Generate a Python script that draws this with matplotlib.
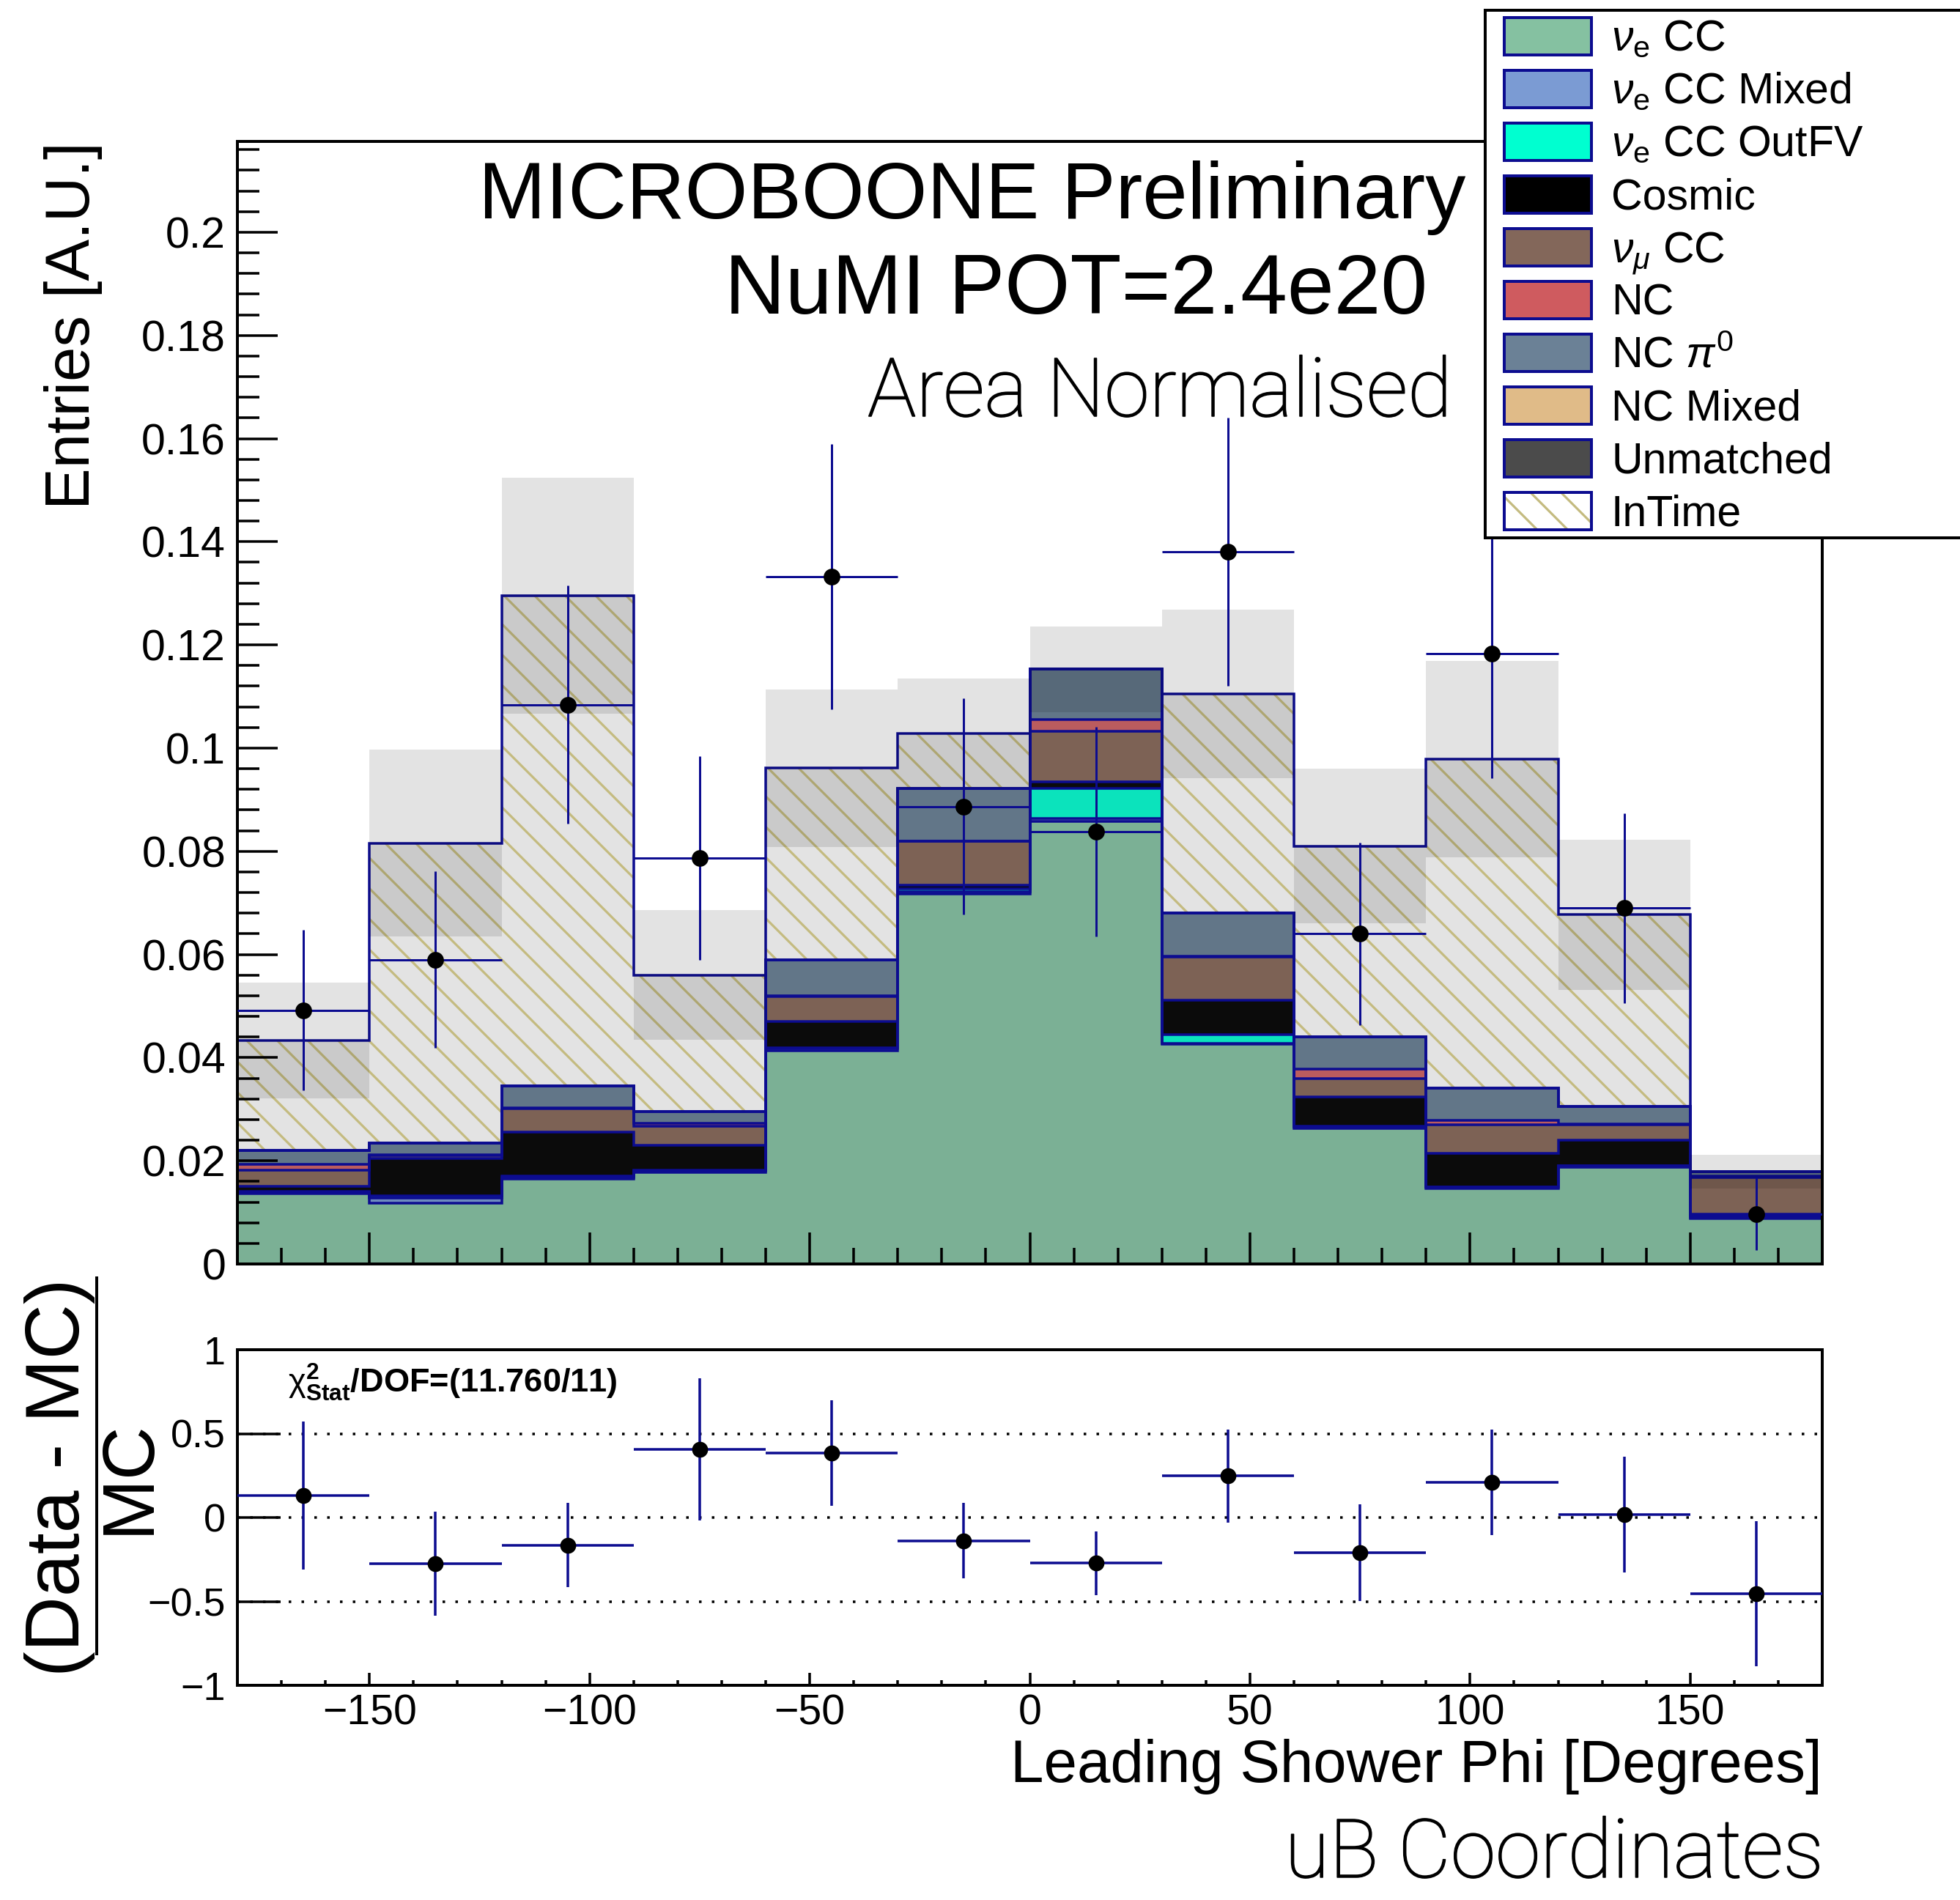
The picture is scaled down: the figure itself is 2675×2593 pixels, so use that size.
import numpy as np
import matplotlib
matplotlib.use("Agg")
import matplotlib.pyplot as plt
import matplotlib.patheffects as pe
from matplotlib.patches import Rectangle
from matplotlib.ticker import MultipleLocator, FuncFormatter

# --- data (12 bins of 30 degrees) ---
bin_edges = [-180, -150, -120, -90, -60, -30, 0, 30, 60, 90, 120, 150, 180]

nue_cc    = [0.0137, 0.0118, 0.0165, 0.0178, 0.0414, 0.0717, 0.0858, 0.0426, 0.0263, 0.0147, 0.0188, 0.0088]
nue_mixed = [0.0002, 0.0010, 0.0003, 0.0003, 0.0003, 0.0005, 0.0005, 0.0002, 0.0002, 0.0002, 0.0002, 0.0002]
nue_outfv = [0.0001, 0.0004, 0.0002, 0.0001, 0.0002, 0.0005, 0.0059, 0.0016, 0.0002, 0.0000, 0.0000, 0.0003]
cosmic    = [0.0010, 0.0072, 0.0085, 0.0048, 0.0051, 0.0008, 0.0013, 0.0068, 0.0057, 0.0065, 0.0050, 0.0003]
numu_cc   = [0.0032, 0.0006, 0.0046, 0.0037, 0.0048, 0.0084, 0.0097, 0.0083, 0.0036, 0.0056, 0.0030, 0.0072]
nc        = [0.0011, 0.0002, 0.0002, 0.0006, 0.0002, 0.0001, 0.0023, 0.0002, 0.0018, 0.0008, 0.0001, 0.0003]
nc_pi0    = [0.0027, 0.0022, 0.0042, 0.0022, 0.0070, 0.0102, 0.0098, 0.0083, 0.0062, 0.0063, 0.0034, 0.0008]
nc_mixed  = [0.0] * 12
unmatched = [0.0] * 12
intime    = [0.0213, 0.0582, 0.0950, 0.0265, 0.0371, 0.0107, 0.0000, 0.0425, 0.0370, 0.0638, 0.0372, 0.0000]

mc_err   = [0.0112, 0.0181, 0.0229, 0.0126, 0.0153, 0.0106, 0.0083, 0.0164, 0.0150, 0.0190, 0.0146, 0.0032]

data     = [0.0492, 0.0590, 0.1084, 0.0787, 0.1332, 0.0887, 0.0838, 0.1380, 0.0640, 0.1183, 0.0690, 0.0097]
data_err = [0.0156, 0.0171, 0.0231, 0.0197, 0.0257, 0.0209, 0.0203, 0.0260, 0.0177, 0.0242, 0.0184, 0.0070]

ratio     = [0.132, -0.275, -0.164, 0.406, 0.383, -0.138, -0.272, 0.247, -0.210, 0.208, 0.016, -0.456]
ratio_err = [0.440, 0.310, 0.253, 0.425, 0.315, 0.226, 0.190, 0.277, 0.288, 0.314, 0.345, 0.432]

labels = [r"$\nu_{\mathrm{e}}$ CC", r"$\nu_{\mathrm{e}}$ CC Mixed", r"$\nu_{\mathrm{e}}$ CC OutFV",
          "Cosmic", r"$\nu_{\mu}$ CC", "NC", r"NC $\pi^{0}$", "NC Mixed", "Unmatched", "InTime"]

# colours: in the plot, and (slightly lighter) in the legend
plot_colors = ["#7bb095", "#6f8bbf", "#0be3bc", "#0b0b0b", "#7d6255",
               "#bb5c5e", "#627688", "#c9a87a", "#454545", "#e3e3e3"]
leg_colors = ["#85c1a1", "#7b9bd3", "#00ffd0", "#000000", "#83675a",
              "#cf5b5f", "#6b8196", "#e0bb88", "#4b4b4b", "#ffffff"]
NAVY = "#0c0c90"
HATCH = "#c4bb80"
LIGHT = ["Roboto", "DejaVu Sans"]

W, H, DPI = 2675, 2593, 125


def pt(px):
    return px * 72.0 / DPI


plt.rcParams["font.family"] = ["Liberation Sans", "DejaVu Sans"]
plt.rcParams["mathtext.fontset"] = "custom"
plt.rcParams["mathtext.rm"] = "Liberation Sans"
plt.rcParams["mathtext.it"] = "Liberation Sans:italic"
plt.rcParams["mathtext.bf"] = "Liberation Sans:bold"
plt.rcParams["hatch.linewidth"] = pt(3.2)

edges = np.array(bin_edges, dtype=float)
centers = 0.5 * (edges[:-1] + edges[1:])
half = 0.5 * (edges[1:] - edges[:-1])

fig = plt.figure(figsize=(W / DPI, H / DPI), dpi=DPI)


# pixel boxes of the two pads
def box(x0, y0, x1, y1):
    return [x0 / W, 1 - y1 / H, (x1 - x0) / W, (y1 - y0) / H]


ax = fig.add_axes(box(324, 193, 2487, 1725))
ax2 = fig.add_axes(box(324, 1842, 2487, 2300))

# --- main pad: stacked histogram ---
components = [nue_cc, nue_mixed, nue_outfv, cosmic, numu_cc, nc, nc_pi0, nc_mixed, unmatched, intime]
cum = np.cumsum(np.array(components), axis=0)
total = cum[-1]

for i in reversed(range(len(components))):
    if i == len(components) - 1:
        ax.stairs(cum[i], edges, baseline=0, fill=True, facecolor=plot_colors[i],
                  edgecolor=HATCH, hatch="\\", linewidth=0, zorder=1)
    else:
        ax.stairs(cum[i], edges, baseline=0, fill=True, facecolor=plot_colors[i],
                  edgecolor="none", linewidth=0, zorder=1)
    ax.stairs(cum[i], edges, baseline=0, color=NAVY, linewidth=pt(3.5), zorder=1.5)

# MC uncertainty band
err = np.array(mc_err)
ax.stairs(total + err, edges, baseline=total - err, fill=True, color="black",
          alpha=0.11, linewidth=0, zorder=2)

ax.errorbar(centers, data, xerr=half, yerr=data_err, fmt="o", color="black",
            ms=pt(21), ecolor=NAVY, elinewidth=pt(3), capsize=0, zorder=3)

ax.set_xlim(-180, 180)
ax.set_ylim(0, 0.2176)
ax.xaxis.set_major_locator(MultipleLocator(50))
ax.xaxis.set_minor_locator(MultipleLocator(10))
ax.yaxis.set_major_locator(MultipleLocator(0.02))
ax.yaxis.set_minor_locator(MultipleLocator(0.004))
ax.yaxis.set_major_formatter(FuncFormatter(lambda v, p: "%g" % round(v, 4)))
ax.tick_params(which="both", direction="in", top=False, right=False, labelbottom=False,
               width=pt(3.5), colors="black")
ax.tick_params(axis="y", which="major", length=pt(55), pad=pt(16), labelsize=34)
ax.tick_params(axis="y", which="minor", length=pt(30))
ax.tick_params(axis="x", which="major", length=pt(43))
ax.tick_params(axis="x", which="minor", length=pt(22))
for s in ax.spines.values():
    s.set_linewidth(pt(4))

# --- ratio pad ---
for yv in (-0.5, 0.0, 0.5):
    ax2.axhline(yv, color="black", linestyle=(0, (1, 4)), linewidth=pt(3.5), zorder=1)
ax2.errorbar(centers, ratio, xerr=half, yerr=ratio_err, fmt="o", color="black",
             ms=pt(20), ecolor=NAVY, elinewidth=pt(3.5), capsize=0, zorder=3)
ax2.set_xlim(-180, 180)
ax2.set_ylim(-1, 1)
ax2.set_yticks([-1, -0.5, 0, 0.5, 1])
ax2.xaxis.set_major_locator(MultipleLocator(50))
ax2.xaxis.set_minor_locator(MultipleLocator(10))
fmt = FuncFormatter(lambda v, p: ("%g" % round(v, 4)).replace("-", "\u2212"))
ax2.xaxis.set_major_formatter(fmt)
ax2.yaxis.set_major_formatter(fmt)
ax2.tick_params(which="both", direction="in", top=False, right=False, width=pt(3.5))
ax2.tick_params(axis="y", which="major", length=pt(59), pad=pt(16), labelsize=31)
ax2.tick_params(axis="x", which="major", length=pt(17), pad=pt(12), labelsize=33)
ax2.tick_params(axis="x", which="minor", length=pt(7))
for s in ax2.spines.values():
    s.set_linewidth(pt(4))

# --- overlay in pixel coordinates for texts and legend ---
lax = fig.add_axes([0, 0, 1, 1])
lax.set_xlim(0, W)
lax.set_ylim(H, 0)
lax.axis("off")

thin = [pe.withStroke(linewidth=pt(1.6), foreground="black")]

lax.text(2000, 298, "MICROBOONE Preliminary", ha="right", va="baseline", fontsize=63.5)
lax.text(1948, 428, "NuMI POT=2.4e20", ha="right", va="baseline", fontsize=66)
lax.text(1982, 568, "Area Normalised", ha="right", va="baseline", fontsize=64,
         family=LIGHT, fontweight="light", path_effects=thin)
lax.text(100, 193, "Entries [A.U.]", rotation=90, ha="center", va="top", fontsize=49)
lax.text(2487, 2432, "Leading Shower Phi [Degrees]", ha="right", va="baseline", fontsize=47)
lax.text(2489, 2562, "uB Coordinates", ha="right", va="baseline", fontsize=64,
         family=LIGHT, fontweight="light", path_effects=thin)

# (Data - MC) / MC
lax.text(82, 2016, "(Data - MC)", rotation=90, ha="center", va="center", fontsize=60)
lax.plot([132, 132], [1744, 2257], color="black", linewidth=pt(4))
lax.text(177, 2016, "MC", rotation=90, ha="center", va="center", fontsize=58)

lax.text(393, 1901, r"$\mathrm{\chi}^{\mathbf{2}}_{\mathbf{Stat}}$/DOF=(11.760/11)",
         ha="left", va="baseline", fontsize=26, fontweight="bold")

# legend
lax.add_patch(Rectangle((2027, 14), 700, 720, facecolor="white", edgecolor="black",
                        linewidth=pt(4), clip_on=False, zorder=5))
for i, lab in enumerate(labels):
    yc = 49 + 72.1 * i
    if lab == "InTime":
        lax.add_patch(Rectangle((2053, yc - 25.5), 119, 51, facecolor="white", edgecolor=HATCH,
                                hatch="\\", linewidth=0, zorder=6))
        lax.add_patch(Rectangle((2053, yc - 25.5), 119, 51, fill=False, edgecolor=NAVY,
                                linewidth=pt(4), zorder=7))
    else:
        lax.add_patch(Rectangle((2053, yc - 25.5), 119, 51, facecolor=leg_colors[i],
                                edgecolor=NAVY, linewidth=pt(4), zorder=6))
    lax.text(2199, yc + 20, lab, ha="left", va="baseline", fontsize=34, zorder=7)

fig.savefig("out.png", dpi=DPI)
